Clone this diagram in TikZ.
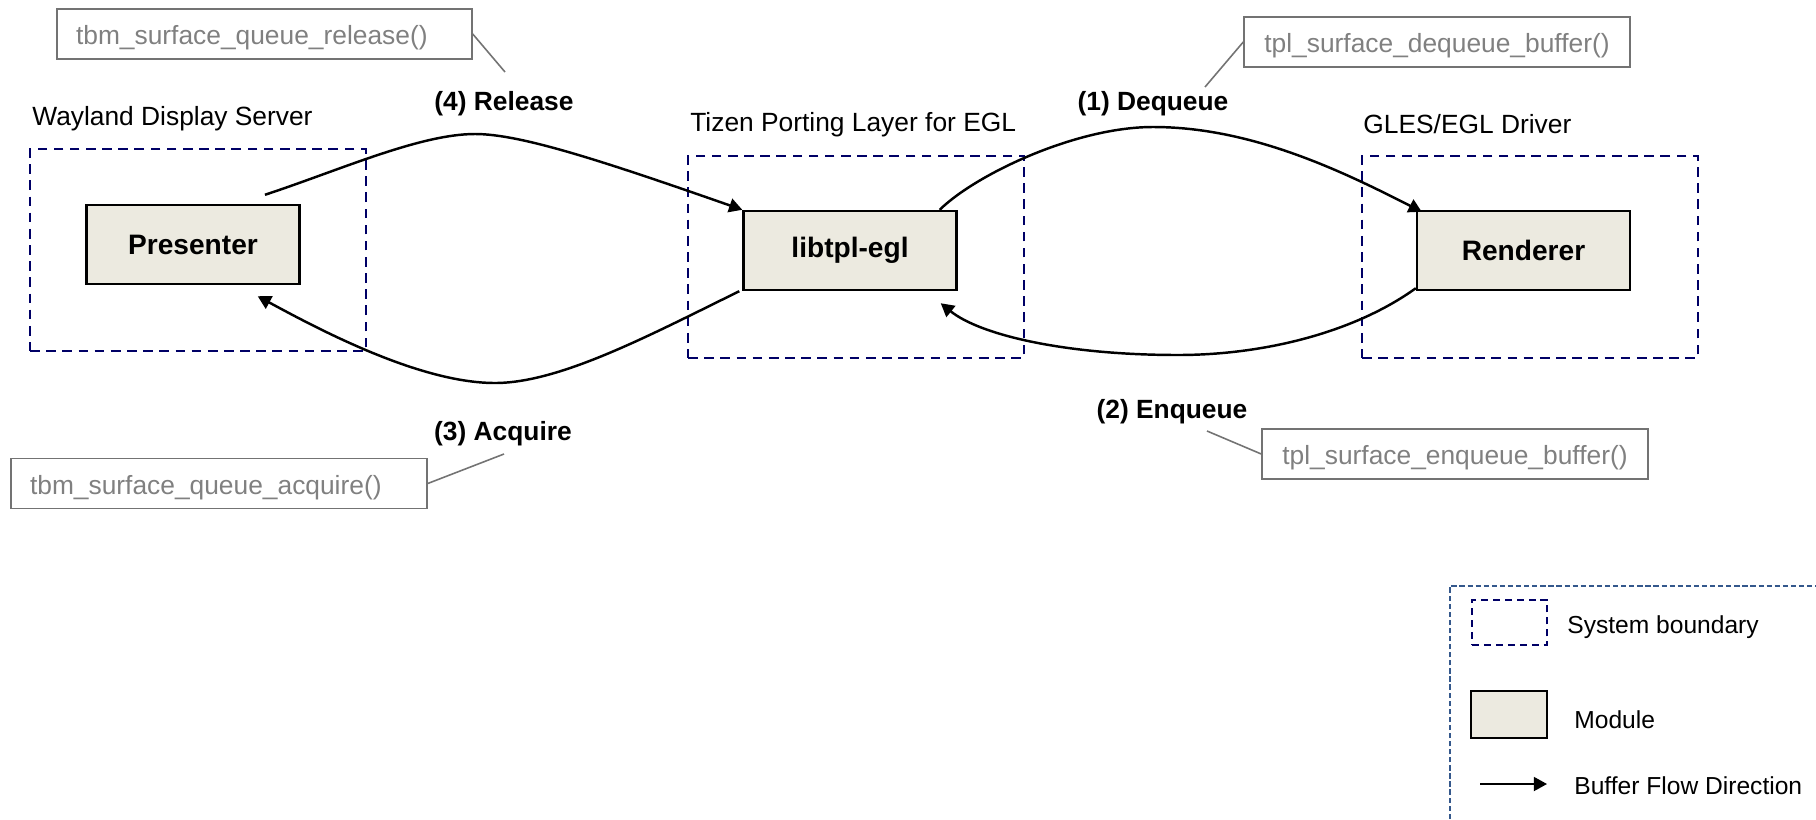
\documentclass[tikz,border=0pt]{standalone}
\usepackage{fontspec}
\setmainfont{Liberation Sans}
\usetikzlibrary{arrows.meta}
\definecolor{navybound}{RGB}{0,0,102}
\definecolor{keyframe}{RGB}{52,88,140}
\definecolor{modfill}{RGB}{236,234,224}
\definecolor{apigray}{RGB}{128,128,128}
\newcommand\apitext[3][c]{\raisebox{-2.5pt}{\makebox[#2][#1]{#3}}}

\begin{document}
\begin{tikzpicture}[x=0.02cm, y=-0.02cm,
      font=\fontsize{15}{18}\selectfont,
      boundary/.style={draw=navybound, line width=1.2pt, dash pattern=on 5.5pt off 3.7pt,
          minimum width=6.72cm, minimum height=4.04cm},
      module/.style={draw, fill=modfill, line width=1.4pt, minimum width=4.26cm,
          minimum height=1.58cm, font=\fontsize{16}{19}\selectfont\bfseries},
      apibox/.style={draw=apigray!90!black, text=apigray, line width=0.9pt, minimum height=1cm,
          inner xsep=0.38cm, text height=0.72em, text depth=0pt},
      title/.style={anchor=west, inner sep=0pt},
      stage/.style={inner sep=0pt, font=\fontsize{15}{18}\selectfont\bfseries},
      keytext/.style={anchor=west, inner sep=0pt, font=\fontsize{14}{17}\selectfont},
      flow/.style={line width=1.4pt, -{Triangle[length=7.5pt, width=8pt]}},
      leader/.style={draw=apigray!90!black, line width=0.9pt}]
    \useasboundingbox (0,0) rectangle (1816,819);

    % systems and modules
    \node[boundary] (wayland) at (198,250) {};
    \node[boundary] (tizen) at (856,257) {};
    \node[boundary] (gles) at (1530,257) {};
    \node[module] (presenter) at (193,244.5) {Presenter};
    \node[module] (libtpl) at (850,250.5) {libtpl-egl};
    \node[module] (renderer) at (1523.5,250.5) {Renderer};

    \node[title] (waylandlbl) at (32,118.5) {Wayland Display Server};
    \node[title] (tizenlbl) at (690,124.5) {Tizen Porting Layer for EGL};
    \node[title] (gleslbl) at (1363,124.5) {GLES/EGL Driver};

    % buffer flow
    \draw[flow] ([shift={(72,-9)}]presenter.north) .. controls (340,170) and (420,134) .. (475,134)
        .. controls (520,134) and (600,160) .. (libtpl.north west);
    \draw[flow] ([shift={(-18,0)}]libtpl.north east) .. controls (975,175) and (1075,127) .. (1153,127)
        .. controls (1250,127) and (1340,170) .. ([shift={(6,2)}]renderer.north west);
    \draw[flow] ([shift={(0,-3)}]renderer.south west) .. controls (1355,332) and (1265,355) .. (1178,355)
        .. controls (1065,355) and (980,335) .. ([shift={(-17,12)}]libtpl.south east);
    \draw[flow] ([shift={(-3,0)}]libtpl.south west) .. controls (650,335) and (560,383) .. (495,383)
        .. controls (420,383) and (320,330) .. ([shift={(-43,11)}]presenter.south east);

    \node[stage] (release) at (504,103.5) {(4) Release};
    \node[stage] (dequeue) at (1153,103.5) {(1) Dequeue};
    \node[stage] (enqueue) at (1172,411.5) {(2) Enqueue};
    \node[stage] (acquire) at (503,433.5) {(3) Acquire};

    % api calls
    \node[apibox] (relapi) at (264.5,34) {\apitext[l]{7.54cm}{tbm\_surface\_queue\_release()}};
    \node[apibox] (deqapi) at (1437,42) {\apitext{6.96cm}{tpl\_surface\_dequeue\_buffer()}};
    \node[apibox] (enqapi) at (1455,454) {\apitext{6.96cm}{tpl\_surface\_enqueue\_buffer()}};
    \node[apibox] (acqapi) at (219,483.5) {\apitext[l]{7.56cm}{tbm\_surface\_queue\_acquire()}};
    \coordinate (relend) at (505,72);
    \coordinate (deqend) at (1205,87);
    \coordinate (enqend) at (1207,431);
    \coordinate (acqend) at (504,454);
    \draw[leader] (relapi.east) -- (relend);
    \draw[leader] (deqapi.west) -- (deqend);
    \draw[leader] (enqapi.west) -- (enqend);
    \draw[leader] (acqapi.east) -- (acqend);

    % legend
    \draw[keyframe, line width=1.4pt, dash pattern=on 3pt off 1.6pt] (1450,819) -- (1450,586) -- (1816,586);
    \node[boundary, minimum width=1.5cm, minimum height=0.9cm, dash pattern=on 4pt off 2.8pt] (keybound) at (1509.5,622.5) {};
    \node[module, minimum width=1.52cm, minimum height=0.94cm] (keymodule) at (1509,714.5) {};
    \coordinate (keyfrom) at (1480,784);
    \coordinate (keyto) at (1547,784);
    \draw[flow, line width=1pt] (keyfrom) -- (keyto);
    \node[keytext] (keyboundlbl) at (1567,627.5) {System boundary};
    \node[keytext] (keymodulelbl) at (1574,720) {Module};
    \node[keytext] (keyflowlbl) at (1574,786) {Buffer Flow Direction};
\end{tikzpicture}
\end{document}
